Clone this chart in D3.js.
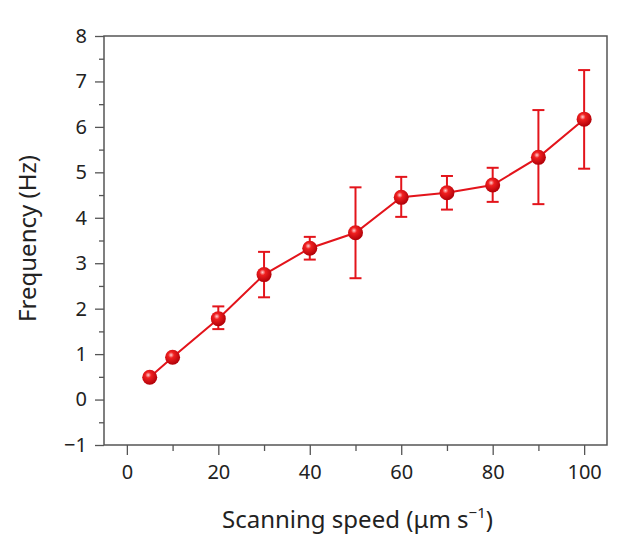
<!DOCTYPE html><html><head><script src="https://cdn.jsdelivr.net/npm/d3@7"></script>
<style>body{margin:0;background:#fff}text{font-family:"Noto Sans",sans-serif}</style></head><body><svg id="c" width="630" height="541"></svg>
<script>
const speeds=[5,10,20,30,40,50,60,70,80,90,100];
const freq=[0.49,0.93,1.78,2.75,3.33,3.67,4.45,4.55,4.72,5.33,6.17];
const errLo=[null,null,1.55,2.25,3.08,2.67,4.02,4.18,4.35,4.3,5.08];
const errHi=[null,null,2.05,3.25,3.58,4.67,4.9,4.92,5.1,6.37,7.25];
const xTicks=[0,20,40,60,80,100];
const yTicks=[-1,0,1,2,3,4,5,6,7,8];
const svg=d3.select("#c");
const L=104,R=607,T=36,B=445;
const x=d3.scaleLinear().domain([-5,105]).range([L,R]);
const y=d3.scaleLinear().domain([-1,8]).range([B,T]);
const red="#e3141b";
const g=svg.append("defs").append("radialGradient").attr("id","sph").attr("cx","40%").attr("cy","35%").attr("r","65%");
g.append("stop").attr("offset","0%").attr("stop-color","#ffd0d0");
g.append("stop").attr("offset","30%").attr("stop-color","#f02020");
g.append("stop").attr("offset","100%").attr("stop-color","#b00008");
svg.append("rect").attr("x",L).attr("y",T).attr("width",R-L).attr("height",B-T).attr("fill","none").attr("stroke","#555").attr("stroke-width",1.5);
svg.append("g").attr("transform",`translate(0,${B})`).call(d3.axisBottom(x).tickValues(xTicks).tickSize(10).tickPadding(10));
svg.append("g").attr("transform",`translate(0,${B})`).call(d3.axisBottom(x).tickValues([10,30,50,70,90]).tickSize(6).tickFormat(""));
svg.append("g").attr("transform",`translate(${L},0)`).call(d3.axisLeft(y).tickValues(yTicks).tickSize(9).tickPadding(8).tickFormat(d=>d<0?"\u2212"+(-d):d));
svg.append("g").attr("transform",`translate(${L},0)`).call(d3.axisLeft(y).tickValues(d3.range(-0.5,8,1)).tickSize(5).tickFormat(""));
svg.selectAll(".domain").remove();
svg.selectAll(".tick line").attr("stroke","#555").attr("stroke-width",1.3);
svg.selectAll(".tick text").attr("font-size",20).attr("fill","#222");
svg.append("text").attr("x",(L+R)/2+2).attr("y",528).attr("text-anchor","middle").attr("font-size",24).attr("fill","#222")
 .html('Scanning speed (μm s<tspan dy="-10" font-size="15">−1</tspan><tspan dy="10">)</tspan>');
svg.append("text").attr("transform",`translate(36,${(T+B)/2-2}) rotate(-90)`).attr("text-anchor","middle").attr("font-size",24).attr("fill","#222").text("Frequency (Hz)");
const data=speeds.map((s,i)=>({s,f:freq[i],lo:errLo[i],hi:errHi[i]}));
svg.append("path").datum(data).attr("fill","none").attr("stroke",red).attr("stroke-width",2)
 .attr("d",d3.line().x(d=>x(d.s)).y(d=>y(d.f)));
const eb=svg.append("g").attr("stroke",red).attr("stroke-width",2);
data.filter(d=>d.lo!=null).forEach(d=>{
 eb.append("line").attr("x1",x(d.s)).attr("x2",x(d.s)).attr("y1",y(d.lo)).attr("y2",y(d.hi));
 [d.lo,d.hi].forEach(v=>eb.append("line").attr("x1",x(d.s)-6).attr("x2",x(d.s)+6).attr("y1",y(v)).attr("y2",y(v)));
});
svg.append("g").selectAll("circle").data(data).join("circle").attr("cx",d=>x(d.s)).attr("cy",d=>y(d.f)).attr("r",7.5).attr("fill","url(#sph)");
</script></body></html>
